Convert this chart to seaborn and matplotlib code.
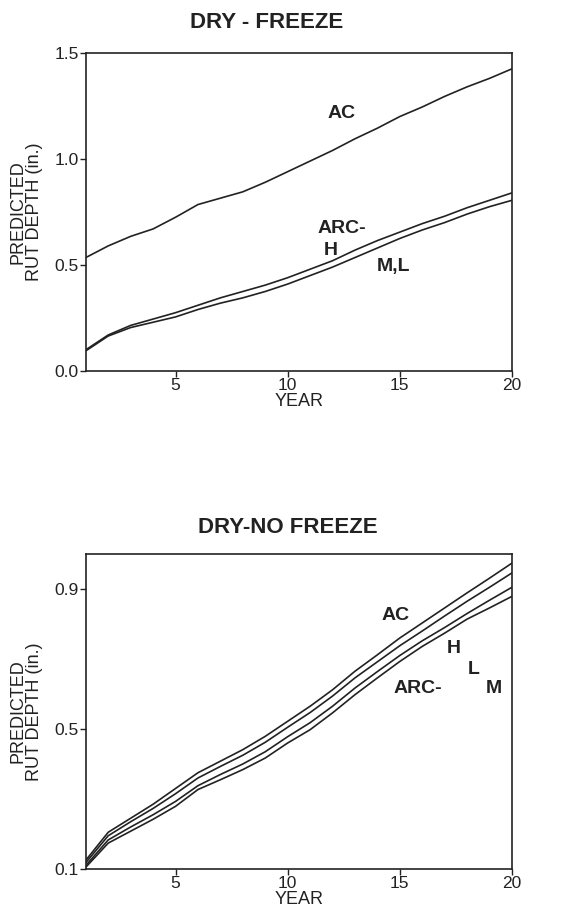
import pandas as pd
import seaborn as sns
import matplotlib.pyplot as plt

# years (x axis) for both panels
years = list(range(1, 21))

# DRY - FREEZE panel, rut depth in inches
freeze_ac = [0.535, 0.59, 0.635, 0.67, 0.725, 0.785, 0.815, 0.845, 0.89, 0.94,
             0.99, 1.04, 1.095, 1.145, 1.20, 1.245, 1.295, 1.34, 1.38, 1.425]
freeze_arc_h = [0.10, 0.17, 0.215, 0.245, 0.275, 0.31, 0.345, 0.375, 0.405, 0.44,
                0.48, 0.52, 0.57, 0.615, 0.655, 0.695, 0.73, 0.77, 0.805, 0.84]
freeze_arc_ml = [0.095, 0.165, 0.205, 0.23, 0.255, 0.29, 0.32, 0.345, 0.375, 0.41,
                 0.45, 0.49, 0.535, 0.58, 0.625, 0.665, 0.70, 0.74, 0.775, 0.805]

# DRY - NO FREEZE panel
nofreeze_ac = [0.125, 0.205, 0.245, 0.285, 0.33, 0.375, 0.408, 0.441, 0.479, 0.522,
               0.565, 0.612, 0.665, 0.712, 0.76, 0.803, 0.846, 0.889, 0.931, 0.974]
nofreeze_arc_h = [0.118, 0.195, 0.235, 0.273, 0.315, 0.36, 0.393, 0.425, 0.462, 0.505,
                  0.547, 0.594, 0.646, 0.692, 0.738, 0.78, 0.823, 0.865, 0.905, 0.946]
nofreeze_arc_l = [0.11, 0.183, 0.22, 0.255, 0.293, 0.338, 0.37, 0.40, 0.435, 0.478,
                  0.518, 0.565, 0.617, 0.664, 0.71, 0.752, 0.79, 0.83, 0.868, 0.905]
nofreeze_arc_m = [0.105, 0.174, 0.208, 0.242, 0.279, 0.327, 0.355, 0.384, 0.417, 0.46,
                  0.498, 0.546, 0.598, 0.646, 0.693, 0.736, 0.774, 0.814, 0.846, 0.879]

sns.set_theme(style="ticks")
plt.rcParams['font.family'] = ['Liberation Sans', 'DejaVu Sans']

ink = "#222222"


def long_df(series):
    rows = []
    for name, vals in series.items():
        for y, v in zip(years, vals):
            rows.append({"year": y, "depth": v, "mix": name})
    return pd.DataFrame(rows)


df_freeze = long_df({"AC": freeze_ac, "ARC-H": freeze_arc_h, "ARC-M,L": freeze_arc_ml})
df_nofreeze = long_df({"AC": nofreeze_ac, "ARC-H": nofreeze_arc_h,
                       "ARC-L": nofreeze_arc_l, "ARC-M": nofreeze_arc_m})

fig = plt.figure(figsize=(5.72, 9.22), dpi=100)
ax1 = fig.add_axes([0.150, 0.5976, 0.745, 0.345])
ax2 = fig.add_axes([0.150, 0.0575, 0.745, 0.3416])


def style_axes(ax, yticks, ylim):
    ax.set_xlim(1, 20)
    ax.set_ylim(*ylim)
    ax.set_xticks([5, 10, 15, 20])
    ax.set_yticks(yticks)
    ax.set_yticklabels([f"{t:.1f}" for t in yticks])
    ax.tick_params(axis="both", direction="out", length=4, width=1, colors=ink,
                   labelsize=12.5, pad=1, top=False, right=False)
    for sp in ax.spines.values():
        sp.set_color(ink)
        sp.set_linewidth(1.2)
        sp.set_visible(True)
    ax.set_xlabel("YEAR", fontsize=13, color=ink, labelpad=0)
    ax.set_ylabel("PREDICTED\nRUT DEPTH (in.)", fontsize=13, color=ink,
                  linespacing=0.95)
    ax.yaxis.set_label_coords(-0.10, 0.5)


lab = dict(fontsize=14, fontweight="bold", color=ink, ha="center", va="center")

sns.lineplot(data=df_freeze, x="year", y="depth", units="mix", estimator=None,
             color=ink, linewidth=1.2, ax=ax1)
style_axes(ax1, [0.0, 0.5, 1.0, 1.5], (0.0, 1.5))
ax1.text(0.425, 1.095, "DRY - FREEZE", transform=ax1.transAxes, fontsize=16,
         fontweight="bold", color=ink, ha="center", va="center")
ax1.text(12.4, 1.215, "AC", **lab)
ax1.text(12.4, 0.67, "ARC-", **lab)
ax1.text(11.9, 0.567, "H", **lab)
ax1.text(14.7, 0.495, "M,L", **lab)

sns.lineplot(data=df_nofreeze, x="year", y="depth", units="mix", estimator=None,
             color=ink, linewidth=1.2, ax=ax2)
style_axes(ax2, [0.1, 0.5, 0.9], (0.1, 1.0))
ax2.text(0.474, 1.083, "DRY-NO FREEZE", transform=ax2.transAxes, fontsize=16,
         fontweight="bold", color=ink, ha="center", va="center")
ax2.text(14.8, 0.825, "AC", **lab)
ax2.text(15.8, 0.617, "ARC-", **lab)
ax2.text(17.4, 0.73, "H", **lab)
ax2.text(18.3, 0.67, "L", **lab)
ax2.text(19.2, 0.617, "M", **lab)

fig.savefig("out.png", dpi=100, facecolor="white")
